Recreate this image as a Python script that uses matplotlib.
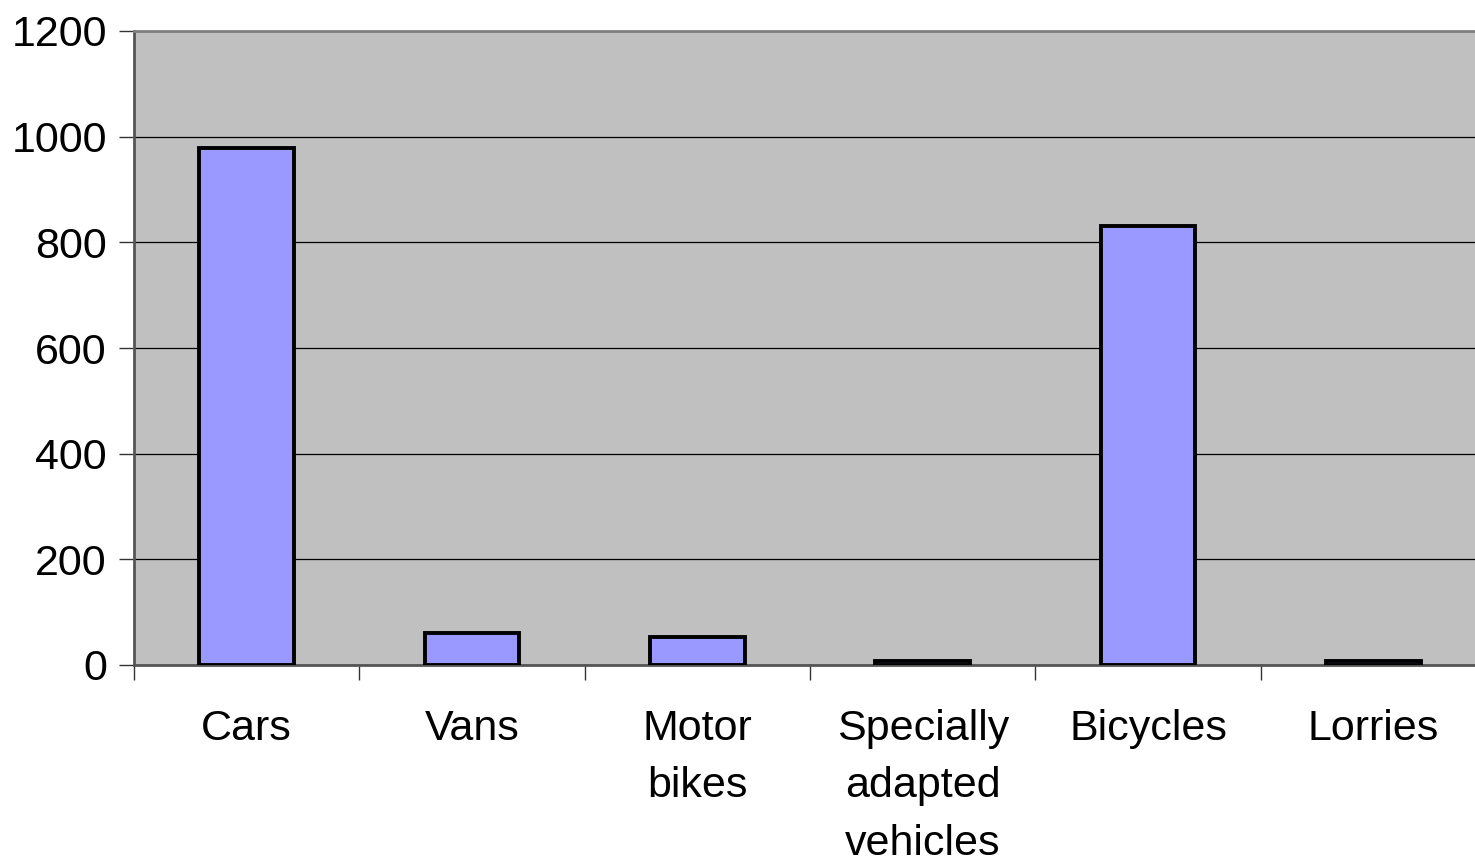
import matplotlib.pyplot as plt
import numpy as np

plt.rcParams['font.family'] = ['Liberation Sans', 'DejaVu Sans']

categories = ['Cars', 'Vans', 'Motor\nbikes', 'Specially\nadapted\nvehicles', 'Bicycles', 'Lorries']
values = [978, 60, 53, 8, 830, 8]

fig = plt.figure(figsize=(14.75, 8.61), dpi=100)
ax = fig.add_axes([134/1475, 1 - 665/861, (1486-134)/1475, (665-31)/861])
ax.set_facecolor('#c0c0c0')

x = np.arange(len(categories))
ax.bar(x, values, width=0.42, color='#9999ff', edgecolor='black', linewidth=2.8, zorder=3)

ax.set_xlim(-0.5, len(categories) - 0.5)
ax.set_ylim(0, 1200)
ax.set_yticks(np.arange(0, 1201, 200))
ax.yaxis.grid(True, color='black', linewidth=0.9, zorder=1)
ax.set_axisbelow(True)

ax.set_xticks(np.arange(-0.5, len(categories) - 0.4, 1))
ax.set_xticklabels([])
ax.set_xticks(x, minor=True)
ax.set_xticklabels(categories, minor=True, fontsize=31, linespacing=1.55, va='top')
ax.tick_params(axis='x', which='minor', length=0, pad=32)
ax.tick_params(axis='x', which='major', length=11, width=1, color='#333333')
ax.tick_params(axis='y', length=11, width=1, color='#333333', labelsize=31, pad=8.5)

for s in ['left', 'bottom']:
    ax.spines[s].set_color('#555555')
    ax.spines[s].set_linewidth(2)
ax.spines['top'].set_color('#808080')
ax.spines['top'].set_linewidth(2)
ax.spines['right'].set_visible(False)

fig.savefig('out.png', dpi=100)
